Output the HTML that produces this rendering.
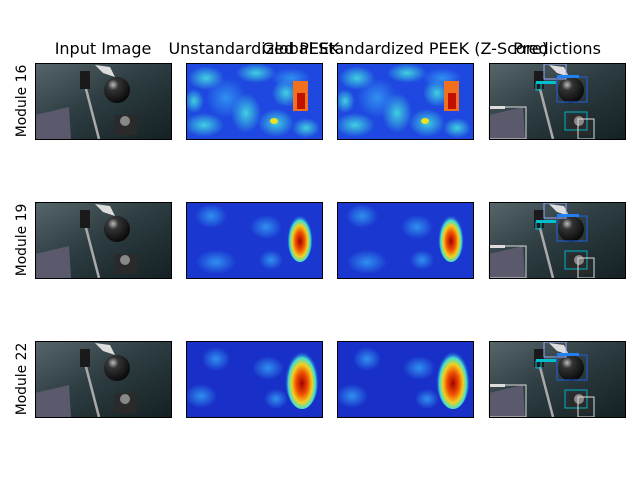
<!DOCTYPE html>
<html><head><meta charset="utf-8"><style>
body{margin:0;background:#fff;width:640px;height:480px;overflow:hidden}
svg{display:block}
text{font-family:"DejaVu Sans","Liberation Sans",sans-serif;fill:#000}
.t{font-size:16px}
.r{font-size:13.9px}
</style></head><body>
<svg width="640" height="480" viewBox="0 0 640 480">
<defs>
<linearGradient id="sky" x1="0" y1="0" x2="1" y2="1">
<stop offset="0" stop-color="#56666a"/><stop offset="0.45" stop-color="#2e3e42"/><stop offset="1" stop-color="#142024"/></linearGradient>
<radialGradient id="ball" cx="0.35" cy="0.3" r="0.7"><stop offset="0" stop-color="#bbb"/><stop offset="0.3" stop-color="#333"/><stop offset="1" stop-color="#0b0b0b"/></radialGradient>
<radialGradient id="hot" cx="0.5" cy="0.6" r="0.5"><stop offset="0" stop-color="#a00000"/><stop offset="0.35" stop-color="#f05000"/><stop offset="0.6" stop-color="#f0d020"/><stop offset="0.8" stop-color="#40e0d0"/><stop offset="1" stop-color="#2050e0" stop-opacity="0"/></radialGradient>
<radialGradient id="cyan" cx="0.5" cy="0.5" r="0.5"><stop offset="0" stop-color="#40d0e0"/><stop offset="1" stop-color="#40d0e0" stop-opacity="0"/></radialGradient>
<radialGradient id="lb" cx="0.5" cy="0.5" r="0.5"><stop offset="0" stop-color="#3090f0"/><stop offset="1" stop-color="#3090f0" stop-opacity="0"/></radialGradient>
<g id="photo">
<rect width="136" height="76" fill="url(#sky)"/>
<line x1="50" y1="22" x2="64" y2="76" stroke="#aaa" stroke-width="2.5"/>
<circle cx="82" cy="27" r="13" fill="url(#ball)"/>
<polygon points="60,2 75,4 80,14 68,10" fill="#ddd"/>
<polygon points="0,52 34,44 36,76 0,76" fill="#5b5a6c"/>
<rect x="80" y="52" width="22" height="20" fill="#2a2a2a"/>
<circle cx="90" cy="58" r="5" fill="#888"/>
<rect x="45" y="8" width="10" height="18" fill="#1a1a1a"/>
</g>
<g id="heat1">
<rect width="136" height="76" fill="#1e48e0"/>
<ellipse cx="20" cy="15" rx="18" ry="12" fill="url(#cyan)"/>
<ellipse cx="18" cy="62" rx="20" ry="12" fill="url(#cyan)"/>
<ellipse cx="70" cy="10" rx="20" ry="10" fill="url(#cyan)"/>
<ellipse cx="60" cy="50" rx="15" ry="20" fill="url(#cyan)"/>
<ellipse cx="90" cy="60" rx="18" ry="14" fill="url(#cyan)"/>
<ellipse cx="120" cy="65" rx="14" ry="10" fill="url(#cyan)"/>
<ellipse cx="100" cy="30" rx="14" ry="14" fill="url(#cyan)"/>
<ellipse cx="8" cy="38" rx="10" ry="12" fill="url(#cyan)"/>
<ellipse cx="105" cy="15" rx="20" ry="10" fill="url(#lb)"/>
<ellipse cx="40" cy="35" rx="20" ry="20" fill="url(#lb)"/>
<rect x="107" y="18" width="15" height="30" fill="#f07020"/>
<rect x="111" y="30" width="8" height="16" fill="#c01000"/>
<ellipse cx="88" cy="58" rx="4" ry="3" fill="#f0e020"/>
</g>
<g id="heat2">
<rect width="136" height="76" fill="#1a38d0"/>
<ellipse cx="25" cy="14" rx="16" ry="12" fill="url(#lb)"/>
<ellipse cx="80" cy="25" rx="16" ry="12" fill="url(#lb)"/>
<ellipse cx="30" cy="60" rx="20" ry="12" fill="url(#lb)"/>
<ellipse cx="85" cy="58" rx="12" ry="10" fill="url(#lb)"/>
<ellipse cx="114" cy="34" rx="13" ry="26" fill="url(#hot)"/>
</g>
<g id="heat3">
<rect width="136" height="76" fill="#1830c8"/>
<ellipse cx="30" cy="18" rx="14" ry="12" fill="url(#lb)"/>
<ellipse cx="15" cy="55" rx="16" ry="12" fill="url(#lb)"/>
<ellipse cx="82" cy="27" rx="16" ry="12" fill="url(#lb)"/>
<ellipse cx="90" cy="58" rx="12" ry="10" fill="url(#lb)"/>
<ellipse cx="116" cy="36" rx="17" ry="32" fill="url(#hot)"/>
</g>
<g id="pred">
<use href="#photo"/>
<rect x="55" y="1" width="22" height="15" fill="none" stroke="#99aaff" stroke-width="1"/>
<rect x="68" y="14" width="30" height="25" fill="none" stroke="#2060e0" stroke-width="1"/>
<rect x="47" y="20" width="5" height="7" fill="none" stroke="#00c0d0" stroke-width="1"/>
<rect x="0" y="44" width="37" height="32" fill="none" stroke="#ddd" stroke-width="1"/>
<rect x="76" y="49" width="22" height="18" fill="none" stroke="#00b0c0" stroke-width="1"/>
<rect x="89" y="56" width="16" height="20" fill="none" stroke="#ddd" stroke-width="1"/>
<rect x="68" y="12" width="22" height="3" fill="#2080f0"/>
<rect x="47" y="18" width="20" height="3" fill="#00c0d0"/>
<rect x="0" y="43" width="16" height="3" fill="#ddd"/>
</g>
</defs>
<text class="t" x="103" y="54" text-anchor="middle">Input Image</text>
<text class="t" x="254" y="54" text-anchor="middle">Unstandardized PEEK</text>
<text class="t" x="405" y="54" text-anchor="middle">Global Standardized PEEK (Z-Score)</text>
<text class="t" x="557" y="54" text-anchor="middle">Predictions</text>
<g>
<text class="r" transform="translate(26,101) rotate(-90)" text-anchor="middle">Module 16</text>
<use href="#photo" x="35" y="63"/>
<use href="#heat1" x="186" y="63"/>
<use href="#heat1" x="337" y="63"/>
<use href="#pred" x="489" y="63"/>
</g>
<g>
<text class="r" transform="translate(26,240) rotate(-90)" text-anchor="middle">Module 19</text>
<use href="#photo" x="35" y="202"/>
<use href="#heat2" x="186" y="202"/>
<use href="#heat2" x="337" y="202"/>
<use href="#pred" x="489" y="202"/>
</g>
<g>
<text class="r" transform="translate(26,379) rotate(-90)" text-anchor="middle">Module 22</text>
<use href="#photo" x="35" y="341"/>
<use href="#heat3" x="186" y="341"/>
<use href="#heat3" x="337" y="341"/>
<use href="#pred" x="489" y="341"/>
</g>
<g fill="none" stroke="#000" stroke-width="1">
<rect x="35.5" y="63.5" width="136" height="76"/><rect x="186.5" y="63.5" width="136" height="76"/><rect x="337.5" y="63.5" width="136" height="76"/><rect x="489.5" y="63.5" width="136" height="76"/>
<rect x="35.5" y="202.5" width="136" height="76"/><rect x="186.5" y="202.5" width="136" height="76"/><rect x="337.5" y="202.5" width="136" height="76"/><rect x="489.5" y="202.5" width="136" height="76"/>
<rect x="35.5" y="341.5" width="136" height="76"/><rect x="186.5" y="341.5" width="136" height="76"/><rect x="337.5" y="341.5" width="136" height="76"/><rect x="489.5" y="341.5" width="136" height="76"/>
</g>
</svg>
</body></html>
